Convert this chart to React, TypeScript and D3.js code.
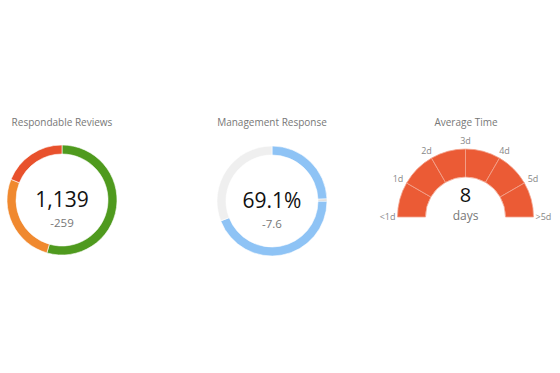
import React, { useEffect, useRef } from 'react';
import * as d3 from 'd3';

const reviewLabels = ['Responded', 'Pending', 'Overdue'];
const reviewValues = [620, 304, 215];
const reviewColors = ['#4f9a1e', '#f0892f', '#e8512c'];
const reviewTotal = '1,139';
const reviewDelta = '-259';

const responseLabels = ['Within SLA', 'Flag', 'Late', 'None'];
const responseValues = [24.4, 0.7, 44.0, 30.9];
const responseColors = ['#8ec3f5', '#d8d8d8', '#8ec3f5', '#efefef'];
const responseValue = '69.1%';
const responseDelta = '-7.6';

const timeBands = ['<1d', '1d', '2d', '3d', '4d', '5d'];
const timeTicks = ['<1d', '1d', '2d', '3d', '4d', '5d', '>5d'];
const timeValue = '8';
const timeUnit = 'days';

const font = '"Open Sans", "Noto Sans", sans-serif';

export default function App() {
  const svgRef = useRef<SVGSVGElement | null>(null);

  useEffect(() => {
    const svg = d3.select(svgRef.current);
    svg.selectAll('*').remove();

    const title = (x: number, text: string) =>
      svg.append('text')
        .attr('x', x).attr('y', 126)
        .attr('text-anchor', 'middle')
        .attr('font-family', font)
        .attr('font-size', 10)
        .attr('fill', '#777')
        .text(text);

    const donut = (cx: number, cy: number, values: number[], colors: string[], big: string, small: string) => {
      const g = svg.append('g').attr('transform', `translate(${cx},${cy})`);
      const pie = d3.pie<number>().sort(null).value(d => d);
      const arc = d3.arc<d3.PieArcDatum<number>>().innerRadius(46).outerRadius(55);
      g.selectAll('path')
        .data(pie(values))
        .join('path')
        .attr('d', arc)
        .attr('fill', (d, i) => colors[i])
        .attr('stroke', '#fff')
        .attr('stroke-width', 0.6);
      g.append('text')
        .attr('y', 7).attr('text-anchor', 'middle')
        .attr('font-family', font).attr('font-size', 21)
        .attr('fill', '#111').text(big);
      g.append('text')
        .attr('y', 27).attr('text-anchor', 'middle')
        .attr('font-family', font).attr('font-size', 11.5)
        .attr('fill', '#777').text(small);
    };

    title(62, 'Respondable Reviews');
    donut(62, 200, reviewValues, reviewColors, reviewTotal, reviewDelta);

    title(272, 'Management Response');
    donut(272, 201, responseValues, responseColors, responseValue, responseDelta);

    // gauge
    title(466, 'Average Time');
    const gx = 465.5, gy = 217;
    const g = svg.append('g').attr('transform', `translate(${gx},${gy})`);
    const angle = d3.scaleLinear().domain([0, timeBands.length]).range([-Math.PI / 2, Math.PI / 2]);
    const arc = d3.arc<number>()
      .innerRadius(40).outerRadius(68)
      .startAngle((d, i) => angle(i))
      .endAngle((d, i) => angle(i + 1));
    g.selectAll('path.band')
      .data(timeBands)
      .join('path')
      .attr('class', 'band')
      .attr('d', (d, i) => arc(d as any, i) as string)
      .attr('fill', '#eb5b35')
      .attr('stroke', '#f3a58f')
      .attr('stroke-width', 0.8);
    g.selectAll('text.tick')
      .data(timeTicks)
      .join('text')
      .attr('class', 'tick')
      .attr('x', (d, i) => Math.sin(angle(i)) * 78)
      .attr('y', (d, i) => -Math.cos(angle(i)) * 76 + 3)
      .attr('text-anchor', (d, i) => (i === 0 ? 'end' : i === timeTicks.length - 1 ? 'start' : 'middle'))
      .attr('dx', (d, i) => (i === 0 ? 8 : i === timeTicks.length - 1 ? -8 : 0))
      .attr('font-family', font)
      .attr('font-size', 9)
      .attr('fill', '#888')
      .text(d => d);
    g.append('text')
      .attr('y', -15).attr('text-anchor', 'middle')
      .attr('font-family', font).attr('font-size', 20)
      .attr('fill', '#111').text(timeValue);
    g.append('text')
      .attr('y', 3).attr('text-anchor', 'middle')
      .attr('font-family', font).attr('font-size', 12)
      .attr('fill', '#777').text(timeUnit);
  }, []);

  return (
    <svg ref={svgRef} width={560} height={373}
      style={{ position: 'absolute', left: 0, top: 0, background: '#fff' }} />
  );
}
